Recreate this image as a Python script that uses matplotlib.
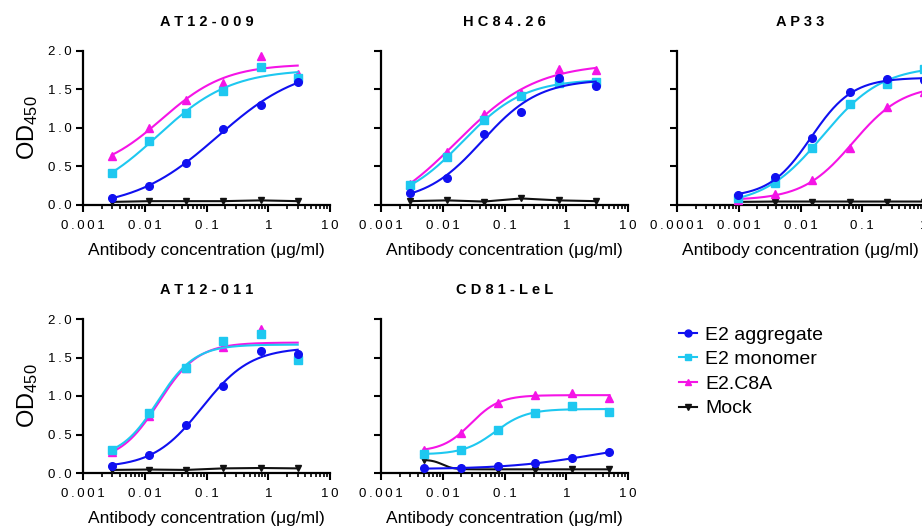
import numpy as np
import matplotlib
matplotlib.use("Agg")
import matplotlib.pyplot as plt
from matplotlib.lines import Line2D
from matplotlib.ticker import FixedLocator, FixedFormatter, LogLocator, NullFormatter

plt.rcParams['font.family'] = ['Liberation Sans', 'DejaVu Sans']
plt.rcParams['mathtext.default'] = 'regular'

# ---------------- data ----------------
SERIES = ["E2 aggregate", "E2 monomer", "E2.C8A", "Mock"]
COLORS = ["#1010F0", "#1EC8F0", "#F514E6", "#111111"]
MARKERS = ["o", "s", "^", "v"]

TITLES = ["AT12-009", "HC84.26", "AP33", "AT12-011", "CD81-LeL"]

CONC_STD = [0.00293, 0.0117, 0.0469, 0.1875, 0.75, 3.0]
CONC_AP33 = [0.000977, 0.00391, 0.0156, 0.0625, 0.25, 1.0]
CONC_CD81 = [0.00488, 0.0195, 0.078, 0.3125, 1.25, 5.0]

AT12_009_AGG = [0.095, 0.247, 0.54, 0.99, 1.30, 1.60]
AT12_009_MONO = [0.41, 0.83, 1.19, 1.48, 1.79, 1.645]
AT12_009_C8A = [0.64, 1.00, 1.36, 1.59, 1.94, 1.70]
AT12_009_MOCK = [0.04, 0.05, 0.05, 0.05, 0.06, 0.05]

HC84_26_AGG = [0.16, 0.355, 0.92, 1.21, 1.65, 1.545]
HC84_26_MONO = [0.255, 0.62, 1.10, 1.415, 1.59, 1.60]
HC84_26_C8A = [0.277, 0.69, 1.18, 1.45, 1.76, 1.75]
HC84_26_MOCK = [0.05, 0.06, 0.045, 0.085, 0.06, 0.05]

AP33_AGG = [0.125, 0.37, 0.874, 1.47, 1.63, 1.62]
AP33_MONO = [0.095, 0.29, 0.74, 1.31, 1.575, 1.77]
AP33_C8A = [0.065, 0.138, 0.32, 0.745, 1.27, 1.47]
AP33_MOCK = [0.04, 0.045, 0.045, 0.045, 0.045, 0.045]

AT12_011_AGG = [0.095, 0.234, 0.623, 1.125, 1.584, 1.55]
AT12_011_MONO = [0.30, 0.775, 1.36, 1.714, 1.805, 1.47]
AT12_011_C8A = [0.27, 0.736, 1.37, 1.64, 1.87, 1.52]
AT12_011_MOCK = [0.04, 0.045, 0.04, 0.06, 0.065, 0.06]

CD81_AGG = [0.06, 0.06, 0.087, 0.126, 0.19, 0.27]
CD81_MONO = [0.247, 0.30, 0.563, 0.78, 0.866, 0.797]
CD81_C8A = [0.303, 0.52, 0.91, 1.017, 1.035, 0.974]
CD81_MOCK = [0.169, 0.052, 0.043, 0.043, 0.052, 0.052]

CONCS = [CONC_STD, CONC_STD, CONC_AP33, CONC_STD, CONC_CD81]
VALUES = [
    [AT12_009_AGG, AT12_009_MONO, AT12_009_C8A, AT12_009_MOCK],
    [HC84_26_AGG, HC84_26_MONO, HC84_26_C8A, HC84_26_MOCK],
    [AP33_AGG, AP33_MONO, AP33_C8A, AP33_MOCK],
    [AT12_011_AGG, AT12_011_MONO, AT12_011_C8A, AT12_011_MOCK],
    [CD81_AGG, CD81_MONO, CD81_C8A, CD81_MOCK],
]
MOCK_FITTED = [False, False, False, False, True]

XLIMS = [(0.001, 10), (0.001, 10), (0.0001, 1), (0.001, 10), (0.001, 10)]
XTICKS_STD = [0.001, 0.01, 0.1, 1, 10]
XTICKS_AP33 = [0.0001, 0.001, 0.01, 0.1, 1]
XLABELS_STD = ["0.001", "0.01", "0.1", "1", "10"]
XLABELS_AP33 = ["0.0001", "0.001", "0.01", "0.1", "1"]
YTICKS = [0.0, 0.5, 1.0, 1.5, 2.0]
YLABELS = ["0.0", "0.5", "1.0", "1.5", "2.0"]

SP = "\u2009"


def spaced(s, sep=SP):
    return sep.join(list(s))


def fit4pl(x, y):
    """Least-squares 4-parameter logistic fit (grid over EC50/Hill, linear in bottom/top)."""
    x = np.asarray(x, float)
    y = np.asarray(y, float)
    lx = np.log10(x)
    logc = np.arange(lx.min() - 1.5, lx.max() + 1.5, 0.01)
    hs = np.arange(0.3, 5.0, 0.01)
    L, Hh = np.meshgrid(logc, hs, indexing="ij")
    s = 1.0 / (1.0 + 10 ** ((L[..., None] - lx) * Hh[..., None]))
    a1 = 1 - s
    a11 = (a1 * a1).sum(-1)
    a12 = (a1 * s).sum(-1)
    a22 = (s * s).sum(-1)
    r1 = (a1 * y).sum(-1)
    r2 = (s * y).sum(-1)
    det = a11 * a22 - a12 ** 2
    ok = det > 1e-10
    det = np.where(ok, det, 1.0)
    b = (a22 * r1 - a12 * r2) / det
    t = (a11 * r2 - a12 * r1) / det
    pred = b[..., None] * a1 + t[..., None] * s
    res = ((pred - y) ** 2).sum(-1)
    res = np.where(ok, res, np.inf)
    i, j = np.unravel_index(np.argmin(res), res.shape)
    return b[i, j], t[i, j], 10 ** logc[i], hs[j]


def curve(p, xx):
    b, t, c, h = p
    return b + (t - b) / (1 + (c / xx) ** h)


# ---------------- layout ----------------
W, H = 922, 526
fig = plt.figure(figsize=(W / 100, H / 100), dpi=100)

col_left = [83, 381, 677]
ax_w = 247
row_top = [51, 319]
ax_h = 154
positions = [(0, 0), (0, 1), (0, 2), (1, 0), (1, 1)]

ZORD = [6, 5, 4, 3]

for k, (r, c) in enumerate(positions):
    left = col_left[c] / W
    bottom = (H - row_top[r] - ax_h) / H
    ax = fig.add_axes([left, bottom, ax_w / W, ax_h / H])
    ax.set_xscale("log")
    ax.set_xlim(*XLIMS[k])
    ax.set_ylim(0, 2.0)
    x = np.asarray(CONCS[k])
    xx = np.logspace(np.log10(x.min()), np.log10(x.max()), 300)
    for si in range(4):
        y = np.asarray(VALUES[k][si])
        fitted = si < 3 or MOCK_FITTED[k]
        if fitted:
            p = fit4pl(x, y)
            ax.plot(xx, curve(p, xx), color=COLORS[si], lw=1.5, zorder=ZORD[si], clip_on=False)
            ax.plot(x, y, linestyle="none", marker=MARKERS[si], ms=5.5 if si != 3 else 5,
                    color=COLORS[si], zorder=ZORD[si], clip_on=False)
        else:
            ax.plot(x, y, marker=MARKERS[si], ms=5, color=COLORS[si], lw=1.5,
                    zorder=ZORD[si], clip_on=False)

    for side in ["top", "right"]:
        ax.spines[side].set_visible(False)
    for side in ["left", "bottom"]:
        ax.spines[side].set_linewidth(1.6)
        ax.spines[side].set_zorder(2)

    xt = XTICKS_AP33 if k == 2 else XTICKS_STD
    xl = XLABELS_AP33 if k == 2 else XLABELS_STD
    ax.xaxis.set_major_locator(FixedLocator(xt))
    ax.xaxis.set_major_formatter(FixedFormatter([spaced(s) for s in xl]))
    ax.xaxis.set_minor_locator(LogLocator(base=10, subs=np.arange(2, 10), numticks=20))
    ax.xaxis.set_minor_formatter(NullFormatter())
    ax.yaxis.set_major_locator(FixedLocator(YTICKS))
    if c == 0:
        ax.yaxis.set_major_formatter(FixedFormatter([spaced(s) for s in YLABELS]))
        ax.set_ylabel("OD$_{450}$", fontsize=17)
        ax.yaxis.set_label_coords(-0.175, 0.5)
    else:
        ax.yaxis.set_major_formatter(NullFormatter())
    ax.tick_params(axis="both", which="major", direction="out", length=5, width=1.5,
                   labelsize=9.5, pad=3, color="black")
    ax.tick_params(axis="x", which="major", pad=5.5)
    ax.tick_params(axis="x", which="minor", direction="out", length=3, width=1.2)
    ax.set_xlabel("Antibody concentration (\u03bcg/ml)", fontsize=12.5, labelpad=8.5)
    ax.set_title(" ".join(list(TITLES[k])), fontsize=10.5, fontweight="bold", pad=18)

handles = [Line2D([0], [0], color=COLORS[i], marker=MARKERS[i], ms=5, lw=1.5)
           for i in range(4)]
fig.legend(handles, SERIES, loc="upper left", bbox_to_anchor=(679 / W, 1 - 326 / H),
           frameon=False, fontsize=14, handlelength=0.9, handletextpad=0.45,
           labelspacing=0.36, borderpad=0, borderaxespad=0)

fig.savefig("out.png", dpi=100)
